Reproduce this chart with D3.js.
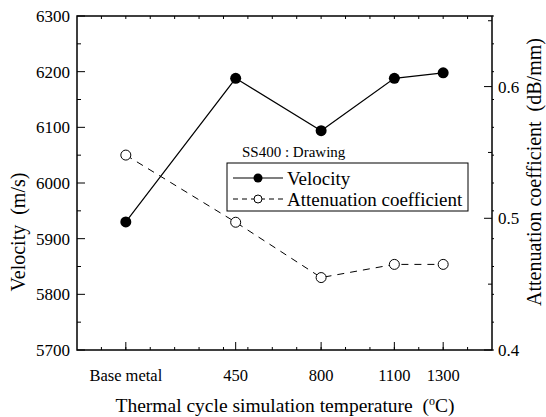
<!DOCTYPE html>
<html>
<head>
<meta charset="utf-8">
<script src="https://cdn.jsdelivr.net/npm/d3@7"></script>
<style>
  body { margin: 0; background: #fff; }
  text { font-family: "Liberation Serif", "Times New Roman", serif; fill: #000; }
</style>
</head>
<body>
<div id="chart"></div>
<script>
// data
var categories = ["Base metal", "450", "800", "1100", "1300"];
var temperatures = [0, 450, 800, 1100, 1300];
var velocity = [5930, 6188, 6094, 6188, 6198];
var attenuation = [0.548, 0.497, 0.455, 0.465, 0.465];
var velocityTicks = [5700, 5800, 5900, 6000, 6100, 6200, 6300];
var attenTicks = [0.4, 0.5, 0.6];

var W = 546, H = 417;
var margin = {top: 16, right: 54, bottom: 67, left: 77},
  ancho = W - margin.left - margin.right,
  altura = H - margin.top - margin.bottom;

var svg = d3.select("#chart")
.append("svg")
  .attr("width", W)
  .attr("height", H)
.append("g")
  .attr("transform", "translate(" + margin.left + "," + margin.top + ")");

// escalas
var x = d3.scaleLinear().domain([-200, 1500]).range([0, ancho]);
var yL = d3.scaleLinear().domain([5700, 6300]).range([altura, 0]);
var yR = d3.scaleLinear().domain([0.4, 0.6536]).range([altura, 0]);

var minorX = d3.range(-100, 1500, 100);
var minorL = d3.range(5750, 6300, 100);
var minorR = [0.45, 0.55, 0.65];

// marco
svg.append("rect")
  .attr("width", ancho).attr("height", altura)
  .attr("fill", "none").attr("stroke", "#000").attr("stroke-width", 1.5);

// eje inferior
var bottom = svg.append("g").attr("transform", "translate(0," + altura + ")");
bottom.selectAll(".minor").data(minorX).enter().append("line")
  .attr("x1", d => x(d)).attr("x2", d => x(d))
  .attr("y1", 0).attr("y2", -3)
  .attr("stroke", "#000");
bottom.selectAll(".major").data(temperatures).enter().append("line")
  .attr("x1", d => x(d)).attr("x2", d => x(d))
  .attr("y1", 0).attr("y2", -8)
  .attr("stroke", "#000");
bottom.selectAll(".lbl").data(categories).enter().append("text")
  .attr("x", (d, i) => x(temperatures[i]))
  .attr("y", 31)
  .attr("text-anchor", "middle")
  .style("font-size", "16.5px")
  .text(d => d);

// eje superior: solo marcas menores
svg.append("g").selectAll("line").data(minorX).enter().append("line")
  .attr("x1", d => x(d)).attr("x2", d => x(d))
  .attr("y1", 0).attr("y2", 3)
  .attr("stroke", "#000");

// eje izquierdo
var left = svg.append("g");
left.selectAll(".major").data(velocityTicks).enter().append("line")
  .attr("x1", 0).attr("x2", 8)
  .attr("y1", d => yL(d)).attr("y2", d => yL(d))
  .attr("stroke", "#000");
left.selectAll(".minor").data(minorL).enter().append("line")
  .attr("x1", 0).attr("x2", 4)
  .attr("y1", d => yL(d)).attr("y2", d => yL(d))
  .attr("stroke", "#000");
left.selectAll("text").data(velocityTicks).enter().append("text")
  .attr("x", -7)
  .attr("y", d => yL(d))
  .attr("dy", "0.35em")
  .attr("text-anchor", "end")
  .style("font-size", "17px")
  .text(d => d);

// eje derecho
var right = svg.append("g").attr("transform", "translate(" + ancho + ",0)");
right.selectAll(".major").data(attenTicks).enter().append("line")
  .attr("x1", 0).attr("x2", -8)
  .attr("y1", d => yR(d)).attr("y2", d => yR(d))
  .attr("stroke", "#000");
right.selectAll(".minor").data(minorR).enter().append("line")
  .attr("x1", 0).attr("x2", -4)
  .attr("y1", d => yR(d)).attr("y2", d => yR(d))
  .attr("stroke", "#000");
right.selectAll(".mirror").data(velocityTicks.concat(minorL)).enter().append("line")
  .attr("x1", 0).attr("x2", 2)
  .attr("y1", d => yL(d)).attr("y2", d => yL(d))
  .attr("stroke", "#000");
right.selectAll("text").data(attenTicks).enter().append("text")
  .attr("x", 6)
  .attr("y", d => yR(d))
  .attr("dy", "0.35em")
  .style("font-size", "17px")
  .text(d => d.toFixed(1));

// lineas
var lineV = d3.line().x((d, i) => x(temperatures[i])).y(d => yL(d));
var lineA = d3.line().x((d, i) => x(temperatures[i])).y(d => yR(d));

svg.append("path").datum(attenuation)
  .attr("d", lineA)
  .attr("fill", "none").attr("stroke", "#000").attr("stroke-width", 1)
  .attr("stroke-dasharray", "7,6");
svg.append("path").datum(velocity)
  .attr("d", lineV)
  .attr("fill", "none").attr("stroke", "#000").attr("stroke-width", 1.2);

svg.selectAll(".ptA").data(attenuation).enter().append("circle")
  .attr("cx", (d, i) => x(temperatures[i]))
  .attr("cy", d => yR(d))
  .attr("r", 5)
  .attr("fill", "#fff").attr("stroke", "#000").attr("stroke-width", 1);
svg.selectAll(".ptV").data(velocity).enter().append("circle")
  .attr("cx", (d, i) => x(temperatures[i]))
  .attr("cy", d => yL(d))
  .attr("r", 5.5)
  .attr("fill", "#000");

// leyenda
var leg = svg.append("g").attr("transform", "translate(" + (227 - margin.left) + "," + (163 - margin.top) + ")");
leg.append("text").attr("x", 15).attr("y", -6).style("font-size", "15px").text("SS400 : Drawing");
leg.append("rect").attr("width", 241).attr("height", 48)
  .attr("fill", "#fff").attr("stroke", "#000").attr("stroke-width", 1);
leg.append("line").attr("x1", 6).attr("x2", 56).attr("y1", 15).attr("y2", 15)
  .attr("stroke", "#000").attr("stroke-width", 1.2);
leg.append("circle").attr("cx", 31).attr("cy", 15).attr("r", 4.5).attr("fill", "#000");
leg.append("text").attr("x", 60).attr("y", 15).attr("dy", "0.35em").style("font-size", "19px").text("Velocity");
leg.append("line").attr("x1", 6).attr("x2", 56).attr("y1", 36).attr("y2", 36)
  .attr("stroke", "#000").attr("stroke-width", 1).attr("stroke-dasharray", "5,4");
leg.append("circle").attr("cx", 31).attr("cy", 36).attr("r", 4)
  .attr("fill", "#fff").attr("stroke", "#000");
leg.append("text").attr("x", 60).attr("y", 36).attr("dy", "0.35em").style("font-size", "19px").text("Attenuation coefficient");

// titulos de ejes
var xt = svg.append("text")
  .attr("x", 285 - margin.left).attr("y", 412 - margin.top)
  .attr("text-anchor", "middle")
  .style("font-size", "19.5px")
  .attr("xml:space", "preserve");
xt.append("tspan").text("Thermal cycle simulation temperature  (");
xt.append("tspan").attr("dy", -7).style("font-size", "12px").text("o");
xt.append("tspan").attr("dy", 7).text("C)");

svg.append("text")
  .attr("transform", "translate(" + (25 - margin.left) + "," + (232 - margin.top) + ") rotate(-90)")
  .attr("text-anchor", "middle")
  .style("font-size", "20px")
  .attr("xml:space", "preserve")
  .text("Velocity  (m/s)");

svg.append("text")
  .attr("transform", "translate(" + (541 - margin.left) + "," + (172 - margin.top) + ") rotate(-90)")
  .attr("text-anchor", "middle")
  .style("font-size", "20px")
  .attr("xml:space", "preserve")
  .text("Attenuation coefficient  (dB/mm)");
</script>
</body>
</html>
